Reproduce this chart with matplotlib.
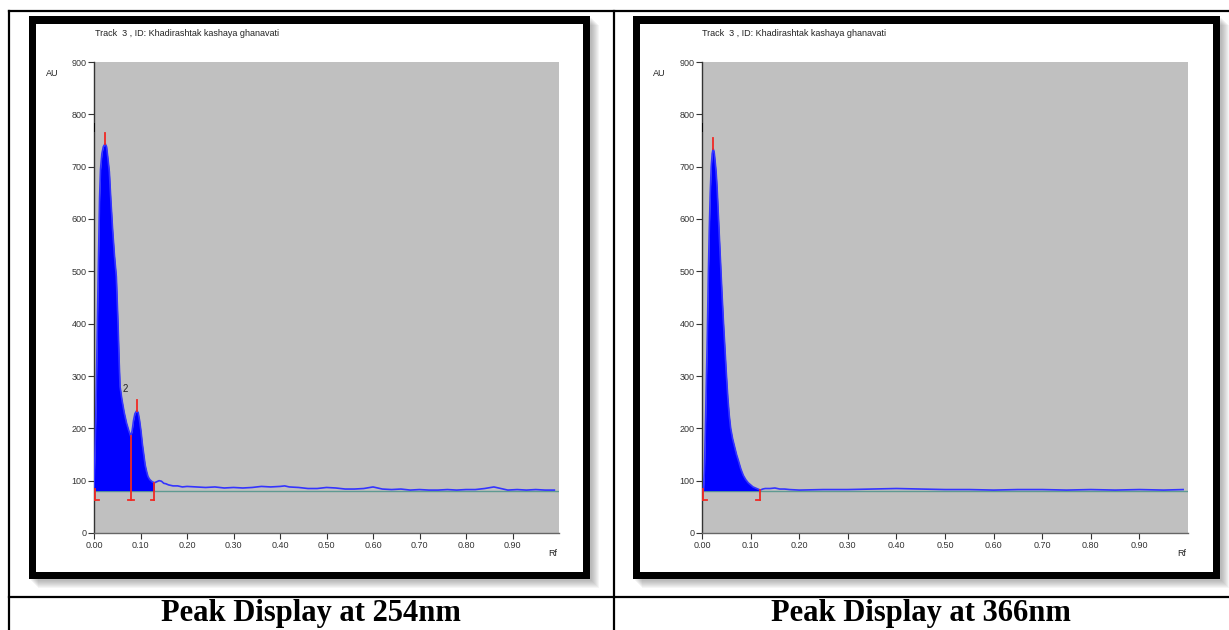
import numpy as np
import matplotlib
matplotlib.use("Agg")
import matplotlib.pyplot as plt
from matplotlib.patches import Rectangle

W, H = 1229, 630

# densitogram of track 3 at 254 nm (Rf, AU)
rf_254 = [0.000, 0.002, 0.004, 0.006, 0.008, 0.010, 0.012, 0.014, 0.017, 0.020,
          0.024, 0.027, 0.030, 0.033, 0.036, 0.040, 0.044, 0.048, 0.050, 0.052,
          0.054, 0.056, 0.060, 0.065, 0.070, 0.075, 0.079, 0.082, 0.085, 0.088,
          0.092, 0.095, 0.098, 0.101, 0.104, 0.107, 0.110, 0.113, 0.116, 0.120,
          0.125, 0.130, 0.135, 0.140, 0.145, 0.150, 0.155, 0.160, 0.170, 0.180,
          0.190, 0.200, 0.220, 0.240, 0.260, 0.280, 0.300, 0.320, 0.340, 0.360,
          0.380, 0.400, 0.410, 0.420, 0.440, 0.460, 0.480, 0.500, 0.520, 0.540,
          0.560, 0.580, 0.600, 0.620, 0.640, 0.660, 0.680, 0.700, 0.720, 0.740,
          0.760, 0.780, 0.800, 0.820, 0.840, 0.860, 0.875, 0.890, 0.910, 0.930,
          0.950, 0.970, 0.990]
au_254 = [88, 150, 230, 330, 440, 540, 640, 695, 725, 738,
          744, 738, 715, 690, 640, 580, 530, 490, 440, 390,
          330, 280, 255, 230, 210, 195, 185, 195, 215, 228,
          234, 230, 215, 195, 170, 150, 130, 118, 108, 102,
          98, 96, 98, 100, 99, 95, 94, 92, 90, 90,
          88, 89, 88, 87, 88, 86, 87, 86, 87, 89,
          88, 89, 90, 88, 87, 85, 85, 87, 86, 84,
          84, 85, 88, 84, 83, 84, 82, 83, 82, 82,
          83, 82, 83, 83, 85, 88, 85, 82, 83, 82,
          83, 82, 82]

# densitogram of track 3 at 366 nm
rf_366 = [0.000, 0.003, 0.005, 0.007, 0.009, 0.011, 0.013, 0.015, 0.017, 0.019,
          0.021, 0.023, 0.025, 0.027, 0.029, 0.031, 0.033, 0.035, 0.038, 0.041,
          0.044, 0.047, 0.050, 0.053, 0.056, 0.059, 0.063, 0.067, 0.071, 0.075,
          0.080, 0.085, 0.090, 0.095, 0.100, 0.105, 0.110, 0.115, 0.120, 0.125,
          0.130, 0.140, 0.150, 0.160, 0.170, 0.180, 0.200, 0.250, 0.300, 0.350,
          0.400, 0.450, 0.500, 0.550, 0.600, 0.650, 0.700, 0.750, 0.800, 0.850,
          0.900, 0.950, 0.990]
au_366 = [80, 82, 120, 200, 290, 380, 490, 580, 650, 700,
          725, 734, 728, 710, 690, 660, 620, 580, 520, 460,
          405, 355, 305, 260, 225, 200, 180, 165, 150, 138,
          122, 110, 102, 96, 92, 88, 86, 84, 82, 84,
          85, 85, 86, 84, 84, 83, 82, 83, 83, 84,
          85, 84, 83, 83, 82, 83, 83, 82, 83, 82,
          83, 82, 83]

baseline_254 = 81
baseline_366 = 81
# peak markers: (Rf of peak, AU of peak) and integration boundaries
peaks_254 = [(0.024, 744), (0.092, 234)]
bounds_254 = [0.002, 0.079, 0.130]
peaks_366 = [(0.023, 734)]
bounds_366 = [0.003, 0.120]

title = "Track  3 , ID: Khadirashtak kashaya ghanavati"
captions = ["Peak Display at 254nm", "Peak Display at 366nm"]
yticks = [0, 100, 200, 300, 400, 500, 600, 700, 800, 900]
xticks = [0.0, 0.1, 0.2, 0.3, 0.4, 0.5, 0.6, 0.7, 0.8, 0.9]


def box(x0, y0, x1, y1):
    return [x0 / W, 1 - y1 / H, (x1 - x0) / W, (y1 - y0) / H]


fig = plt.figure(figsize=(W / 100, H / 100), dpi=100)
bg = fig.add_axes([0, 0, 1, 1])
bg.set_xlim(0, W)
bg.set_ylim(H, 0)
bg.axis("off")

# table lines
lw = 1.6
bg.plot([9, W], [11, 11], color="black", lw=lw)
bg.plot([9, W], [597, 597], color="black", lw=lw)
bg.plot([9, 9], [11, H], color="black", lw=lw)
bg.plot([614, 614], [11, H], color="black", lw=lw)


def frame(x0, y0, x1, y1):
    # soft drop shadow
    for i in range(8):
        bg.add_patch(Rectangle((x0 + 2 + i, y0 + 2 + i), x1 - x0, y1 - y0,
                               facecolor="#555555", alpha=0.06, lw=0, zorder=1))
    bg.add_patch(Rectangle((x0, y0), x1 - x0, y1 - y0, facecolor="black", lw=0, zorder=2))
    bg.add_patch(Rectangle((x0 + 7, y0 + 8), x1 - x0 - 14, y1 - y0 - 15,
                           facecolor="white", lw=0, zorder=3))


frame(29, 16, 590, 579)
frame(633, 16, 1220, 579)


def panel(ax_box, rf, au, base, peaks, bounds, label2=None):
    ax = fig.add_axes(box(*ax_box))
    rf = np.array(rf)
    au = np.array(au)
    ax.set_facecolor("#c0c0c0")
    ax.axhline(base, color="#5f9a92", lw=1.0, zorder=2)
    inside = (rf >= bounds[0] - 0.003) & (rf <= bounds[-1])
    ax.fill_between(rf[inside], base, au[inside], color="#0000ff", lw=0, zorder=3)
    ax.plot(rf, au, color="#3434ff", lw=1.2, zorder=4)
    red = "#f02a24"
    rlw = 1.3
    for px, py in peaks:
        ax.plot([px, px], [py, py + 20], color=red, lw=rlw, zorder=5)
    for i, bx in enumerate(bounds):
        top = base + 4 if i == 0 else np.interp(bx, rf, au)
        ax.plot([bx, bx], [top, 64], color=red, lw=rlw, zorder=5)
        if i == 0:
            ax.plot([bx, bx + 0.008], [64, 64], color=red, lw=rlw, zorder=5)
        elif i == len(bounds) - 1:
            ax.plot([bx - 0.008, bx], [64, 64], color=red, lw=rlw, zorder=5)
        else:
            ax.plot([bx - 0.006, bx + 0.006], [64, 64], color=red, lw=rlw, zorder=5)
    ax.text(0.0, 775, "|", fontsize=6, color="black", ha="center", va="center",
            fontweight="bold")
    if label2:
        ax.text(label2[0], label2[1], "2", fontsize=7, color="#222222",
                ha="center", va="center", family="Liberation Sans")
    ax.set_xlim(0, 1.0)
    ax.set_ylim(0, 900)
    ax.set_yticks(yticks)
    ax.set_yticklabels([str(v) for v in yticks])
    ax.set_xticks(xticks)
    ax.set_xticklabels(["%.2f" % v for v in xticks])
    for s in ["top", "right"]:
        ax.spines[s].set_visible(False)
    ax.spines["left"].set_color("#333333")
    ax.spines["bottom"].set_color("#666666")
    ax.spines["left"].set_linewidth(1.0)
    ax.spines["bottom"].set_linewidth(1.0)
    ax.tick_params(length=4, width=0.8, color="#333333", labelsize=6.5,
                   labelcolor="#333333", pad=1.5)
    for t in ax.get_xticklabels() + ax.get_yticklabels():
        t.set_family("Liberation Sans")
    return ax


panel((94, 62, 559, 533), rf_254, au_254, baseline_254, peaks_254, bounds_254,
      label2=(0.068, 275))
panel((702, 62, 1188, 533), rf_366, au_366, baseline_366, peaks_366, bounds_366)

small = dict(fontsize=6.5, color="#222222", family="Liberation Sans")
bg.text(95, 34, title, ha="left", va="center", **small)
bg.text(702, 34, title, ha="left", va="center", **small)
bg.text(52, 73, "AU", ha="center", va="center", **small)
bg.text(659, 73, "AU", ha="center", va="center", **small)
bg.text(553, 553, "Rf", ha="center", va="center", **small)
bg.text(1182, 553, "Rf", ha="center", va="center", **small)

cap = dict(fontsize=22, fontweight="bold", family="Liberation Serif", color="black")
bg.text(311, 613, captions[0], ha="center", va="center", **cap)
bg.text(921, 613, captions[1], ha="center", va="center", **cap)

fig.savefig("out.png", dpi=100)
